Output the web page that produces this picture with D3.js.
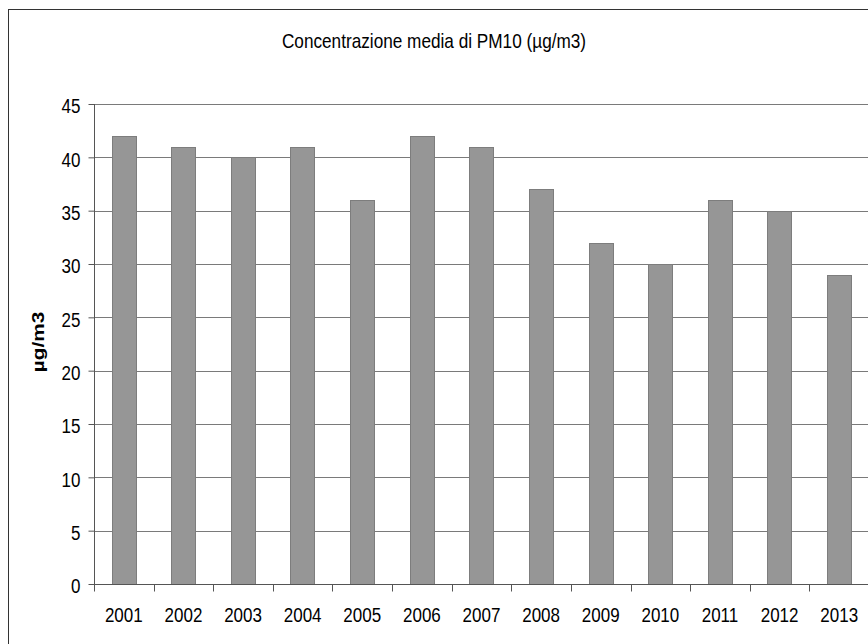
<!DOCTYPE html>
<html>
<head>
<meta charset="utf-8">
<script src="https://cdn.jsdelivr.net/npm/d3@7"></script>
<style>
  html, body { margin: 0; padding: 0; background: #fff; }
  svg { display: block; }
  text { font-family: "Liberation Sans", Arial, sans-serif; fill: #000; }
</style>
</head>
<body>
<div id="chart"></div>
<script>
// Annual mean PM10 concentration
const years = ["2001","2002","2003","2004","2005","2006","2007","2008","2009","2010","2011","2012","2013"];
const pm10 = [42, 41, 40, 41, 36, 42, 41, 37, 32, 30, 36, 35, 29];
const yTicks = [0, 5, 10, 15, 20, 25, 30, 35, 40, 45];
const titleText = "Concentrazione media di PM10 (µg/m3)";
const yLabel = "µg/m3";

const W = 868, H = 644;
const plot = { left: 94, top: 104, right: 869, bottom: 584 };
const stretch = 1.22; // text is drawn slightly taller than wide

const svg = d3.select("#chart").append("svg")
  .attr("width", W).attr("height", H);

// outer chart frame
svg.append("rect")
  .attr("x", 8.5).attr("y", 9.5)
  .attr("width", W + 20).attr("height", H + 20)
  .attr("fill", "#fff").attr("stroke", "#333").attr("stroke-width", 1);

const x = d3.scaleBand().domain(years)
  .range([plot.left, plot.right]).paddingInner(0.59).paddingOuter(0.295);
const xBand = d3.scaleBand().domain(years).range([plot.left, plot.right]);
const y = d3.scaleLinear().domain([0, 45]).range([plot.bottom, plot.top]);

// horizontal gridlines
svg.append("g").selectAll("line").data(yTicks.filter(d => d > 0)).join("line")
  .attr("x1", plot.left).attr("x2", plot.right)
  .attr("y1", d => Math.round(y(d)) + 0.5).attr("y2", d => Math.round(y(d)) + 0.5)
  .attr("stroke", "#7a7a7a").attr("stroke-width", 1);

// bars
svg.append("g").selectAll("rect").data(years).join("rect")
  .attr("x", (d) => Math.round(x(d)) + 0.5)
  .attr("y", (d, i) => Math.round(y(pm10[i])) + 0.5)
  .attr("width", Math.round(x.bandwidth()))
  .attr("height", (d, i) => Math.round(y(0)) - Math.round(y(pm10[i])))
  .attr("fill", "#969696").attr("stroke", "#7d7d7d").attr("stroke-width", 1);

// y axis
const yAxis = svg.append("g")
  .attr("transform", `translate(${plot.left + 0.5},0)`)
  .call(d3.axisLeft(y).tickValues(yTicks).tickSize(6).tickPadding(8).tickFormat(d3.format("d")));
yAxis.select(".domain").attr("stroke", "#555").attr("d", `M0,${plot.top}V${plot.bottom + 0.5}`);
yAxis.selectAll(".tick line").attr("stroke", "#555");
yAxis.selectAll(".tick text")
  .attr("font-size", 17)
  .attr("dy", null)
  .attr("transform", `translate(0,2) scale(1,${stretch}) translate(0,5.5)`);

// x axis
const xAxis = svg.append("g")
  .attr("transform", `translate(0,${Math.round(plot.bottom) + 0.5})`)
  .call(d3.axisBottom(xBand).tickSize(0).tickFormat(d => d));
xAxis.select(".domain").attr("stroke", "#555").attr("d", `M${plot.left},0H${plot.right}`);
xAxis.selectAll(".tick text")
  .attr("font-size", 17).attr("y", 0).attr("dy", null)
  .attr("transform", `translate(0,37.5) scale(1,${stretch})`);
// category separators below the axis
xAxis.append("g").selectAll("line").data(years).join("line")
  .attr("x1", d => Math.round(xBand(d)) + 0.5).attr("x2", d => Math.round(xBand(d)) + 0.5)
  .attr("y1", 0).attr("y2", 7).attr("stroke", "#555");

// title
svg.append("text")
  .attr("text-anchor", "middle")
  .attr("font-size", 17.2)
  .attr("transform", `translate(434,47.5) scale(1,${stretch})`)
  .text(titleText);

// y axis title
svg.append("text")
  .attr("text-anchor", "middle")
  .attr("font-size", 17).attr("font-weight", "bold")
  .attr("transform", `translate(44,342) rotate(-90) scale(${stretch},1)`)
  .text(yLabel);
</script>
</body>
</html>
